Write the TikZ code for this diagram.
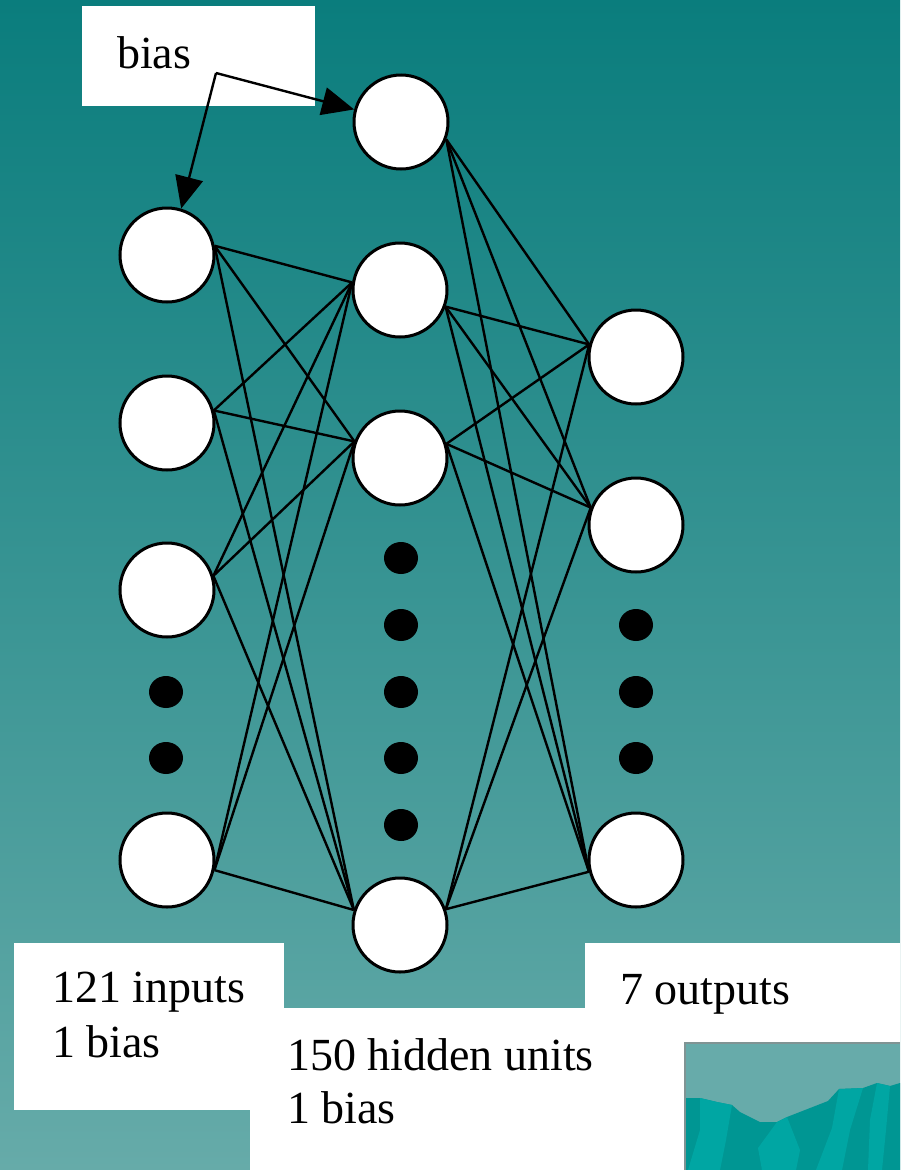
\documentclass[tikz,border=0pt]{standalone}
\usepackage{fontspec}
\setmainfont{Liberation Serif}
\usetikzlibrary{arrows.meta}

\definecolor{bgtop}{RGB}{10,125,125}
\definecolor{bgbot}{RGB}{102,171,169}
\definecolor{sky}{RGB}{103,171,170}
\definecolor{rockdark}{RGB}{0,150,147}
\definecolor{rocklight}{RGB}{0,166,163}
\definecolor{frameline}{RGB}{128,148,148}

\tikzset{
  unit/.style={circle, draw=black, fill=white, line width=3pt,
               minimum size=94pt, inner sep=0pt},
  gapdot/.style={ellipse, fill=black, minimum width=34pt,
                 minimum height=32pt, inner sep=0pt},
  link/.style={draw=black, line width=2.4pt},
  biasarrow/.style={link, -{Triangle[length=32pt,width=28pt]}},
  txt/.style={anchor=base west, inner sep=0pt, text=black,
              font=\fontsize{46}{54}\selectfont},
  panel/.style={fill=white, draw=none}
}
\usetikzlibrary{shapes.geometric}

\begin{document}
\begin{tikzpicture}[x=1pt,y=-1pt]
  \useasboundingbox (0,0) rectangle (900,1170);
  % background
  \shade[top color=bgtop, bottom color=bgbot] (0,0) rectangle (900,1170);

  % white caption panels
  \fill[panel] (82,6) rectangle (315,106);
  \fill[panel] (14,943) rectangle (284,1110);
  \fill[panel] (250,1008) rectangle (700,1170);
  \fill[panel] (585,943) rectangle (900,1170);

  % small landscape picture in the corner
  \fill[sky] (685,1043) rectangle (900,1170);
  \fill[rockdark] (685,1098) -- (700,1098) -- (717,1102) -- (732,1105)
     -- (740,1112) -- (760,1122) -- (777,1122) -- (787,1117) -- (828,1101)
     -- (839,1089) -- (863,1088) -- (877,1083) -- (890,1086) -- (900,1083)
     -- (900,1170) -- (685,1170) -- cycle;
  \fill[rocklight] (700,1098) -- (717,1102) -- (732,1105) -- (726,1140)
     -- (720,1170) -- (688,1170) -- (700,1130) -- cycle;
  \fill[rocklight] (777,1122) -- (787,1117) -- (800,1150) -- (796,1170)
     -- (762,1170) -- (758,1148) -- cycle;
  \fill[rocklight] (839,1089) -- (863,1088) -- (850,1130) -- (842,1170)
     -- (816,1170) -- (832,1128) -- cycle;
  \fill[rocklight] (877,1083) -- (890,1086) -- (886,1130) -- (882,1170)
     -- (868,1170) -- (870,1120) -- cycle;
  \draw[frameline, line width=1.5pt] (685,1170) -- (685,1043) -- (900,1043);

  % units
  \node[unit] (h0) at (401,122) {};
  \node[unit] (h1) at (400,290) {};
  \node[unit] (h2) at (400,458) {};
  \node[unit] (h3) at (400,925) {};
  \node[unit] (i1) at (167,255) {};
  \node[unit] (i2) at (167,423) {};
  \node[unit] (i3) at (167,590) {};
  \node[unit] (i4) at (167,860) {};
  \node[unit] (o1) at (636,357) {};
  \node[unit] (o2) at (636,525) {};
  \node[unit] (o3) at (636,860) {};

  % ellipsis dots
  \node[gapdot] (di1) at (166,692) {};
  \node[gapdot] (di2) at (166,758) {};
  \node[gapdot] (dh1) at (401,558) {};
  \node[gapdot] (dh2) at (401,625) {};
  \node[gapdot] (dh3) at (401,692) {};
  \node[gapdot] (dh4) at (401,758) {};
  \node[gapdot] (dh5) at (401,825) {};
  \node[gapdot] (do1) at (636,625) {};
  \node[gapdot] (do2) at (636,692) {};
  \node[gapdot] (do3) at (636,758) {};

  % input -> hidden weights
  \foreach \src/\ang in {i1/11, i2/15, i3/17, i4/-12} {
    \draw[link] (\src.\ang) -- (h1.171);
    \draw[link] (\src.\ang) -- (h2.160);
    \draw[link] (\src.\ang) -- (h3.162);
  }

  % hidden -> output weights
  \foreach \src/\ang in {h0/-21, h1/-20, h2/17, h3/19} {
    \draw[link] (\src.\ang) -- (o1.165);
    \draw[link] (\src.\ang) -- (o2.159);
    \draw[link] (\src.\ang) -- (o3.194);
  }

  % bias feeds
  \coordinate (bsplit) at (216,73);
  \draw[biasarrow] (bsplit) -- (h0.165);
  \draw[biasarrow] (bsplit) -- (i1.73);

  % captions
  \node[txt] (biastxt) at (117,68) {bias};
  \node[txt] (inA) at (52,1002) {121 inputs};
  \node[txt] (inB) at (52,1057) {1 bias};
  \node[txt] (hidA) at (287,1070) {150 hidden units};
  \node[txt] (hidB) at (287,1123) {1 bias};
  \node[txt] (outA) at (620,1004) {7 outputs};
\end{tikzpicture}
\end{document}
